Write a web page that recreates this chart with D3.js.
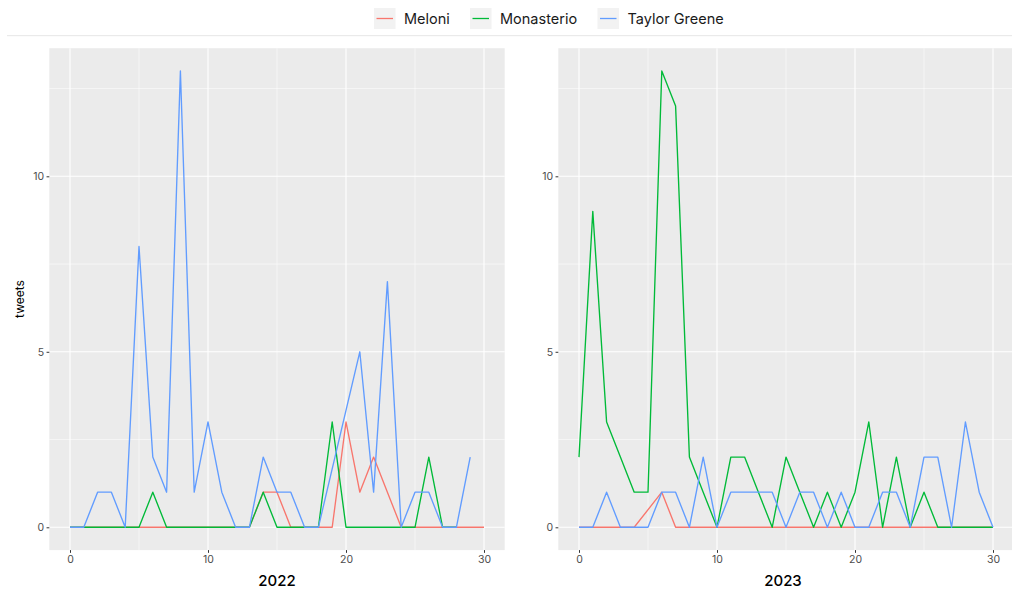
<!DOCTYPE html>
<html>
<head>
<meta charset="utf-8">
<script src="https://cdn.jsdelivr.net/npm/d3@7"></script>
<style>
  body { margin: 0; background: #fff; }
  svg { font-family: Inter, "Noto Sans", sans-serif; display: block; }
</style>
</head>
<body>
<svg id="chart" width="1012" height="589"></svg>
<script>
// tweets per day index, null = no row for that day (line joins across it)
const days = d3.range(0, 31);
const years = ["2022", "2023"];
const seriesNames = ["Meloni", "Monasterio", "Taylor Greene"];
const seriesColors = ["#F8766D", "#00BA38", "#619CFF"];

const meloni2022 = [0,0,0,0,0,0,0,0,0,0,0,0,0,0,1,1,0,0,0,0,3,1,2,1,0,0,0,0,0,0,0];
const monasterio2022 = [0,0,0,0,0,0,1,0,0,0,0,0,0,0,1,0,0,0,0,3,0,0,0,0,0,0,2,0,0,null,null];
const greene2022 = [0,0,1,1,0,8,2,1,13,1,3,1,0,0,2,1,1,0,0,null,null,5,1,7,0,1,1,0,0,2,null];

const meloni2023 = [0,0,0,0,0,null,1,0,0,0,0,0,0,0,0,0,0,0,0,0,0,0,0,0,0,0,0,0,0,0,0];
const monasterio2023 = [2,9,3,2,1,1,13,12,2,1,0,2,2,1,0,2,1,0,1,0,1,3,0,2,0,1,0,0,0,0,0];
const greene2023 = [0,0,1,0,0,0,1,1,0,2,0,1,1,1,1,0,1,1,0,1,0,0,1,1,0,2,2,0,3,1,0];

const xTicks = [0, 10, 20, 30];
const yTicks = [0, 5, 10];

const panelData = {
    "2022": [meloni2022, monasterio2022, greene2022],
    "2023": [meloni2023, monasterio2023, greene2023],
};

const svg = d3.select("#chart");

const panelLeft = { "2022": 49.3, "2023": 558.3 };
const panelWidth = 455.4;
const panelTop = 48.2, panelBottom = 550.1;

const y = d3.scaleLinear().domain([-0.65, 13.65]).range([panelBottom, panelTop]);

// legend
const legend = svg.append("g");
const legendX = [374, 470, 597.5];
seriesNames.forEach((name, i) => {
    const g = legend.append("g").attr("transform", `translate(${legendX[i]},8)`);
    g.append("rect").attr("width", 21.5).attr("height", 21).attr("fill", "#F2F2F2");
    g.append("line")
        .attr("x1", 2.5).attr("x2", 19)
        .attr("y1", 10.5).attr("y2", 10.5)
        .attr("stroke", seriesColors[i]).attr("stroke-width", 1.3);
    g.append("text")
        .attr("x", 30).attr("y", 16)
        .attr("font-size", 14.5)
        .attr("fill", "#1a1a1a")
        .text(name);
});
svg.append("line")
    .attr("x1", 7).attr("x2", 1012)
    .attr("y1", 35.7).attr("y2", 35.7)
    .attr("stroke", "#E6E6E6").attr("stroke-width", 1);

svg.append("text")
    .attr("transform", "translate(24,299) rotate(-90)")
    .attr("text-anchor", "middle")
    .attr("font-size", 12)
    .attr("fill", "#000")
    .text("tweets");

years.forEach((year) => {
    const x0 = panelLeft[year];
    const x = d3.scaleLinear().domain([-1.5, 31.5]).range([x0, x0 + panelWidth]);
    const g = svg.append("g");

    g.append("rect")
        .attr("x", x0).attr("y", panelTop)
        .attr("width", panelWidth).attr("height", panelBottom - panelTop)
        .attr("fill", "#EBEBEB");

    // minor grid
    [5, 15, 25].forEach((v) => {
        g.append("line").attr("x1", x(v)).attr("x2", x(v)).attr("y1", panelTop).attr("y2", panelBottom)
            .attr("stroke", "#fff").attr("stroke-width", 0.55);
    });
    [2.5, 7.5, 12.5].forEach((v) => {
        g.append("line").attr("x1", x0).attr("x2", x0 + panelWidth).attr("y1", y(v)).attr("y2", y(v))
            .attr("stroke", "#fff").attr("stroke-width", 0.55);
    });
    // major grid
    xTicks.forEach((v) => {
        g.append("line").attr("x1", x(v)).attr("x2", x(v)).attr("y1", panelTop).attr("y2", panelBottom)
            .attr("stroke", "#fff").attr("stroke-width", 1.1);
    });
    yTicks.forEach((v) => {
        g.append("line").attr("x1", x0).attr("x2", x0 + panelWidth).attr("y1", y(v)).attr("y2", y(v))
            .attr("stroke", "#fff").attr("stroke-width", 1.1);
    });

    const line = d3.line().x((d) => x(d[0])).y((d) => y(d[1]));
    panelData[year].forEach((vals, i) => {
        const pts = days.map((d) => [d, vals[d]]).filter((d) => d[1] !== null);
        g.append("path")
            .datum(pts)
            .attr("d", line)
            .attr("fill", "none")
            .attr("stroke", seriesColors[i])
            .attr("stroke-width", 1.35)
            .attr("stroke-linejoin", "round");
    });

    const xAxis = g.append("g")
        .attr("transform", `translate(0,${panelBottom})`)
        .call(d3.axisBottom(x).tickValues(xTicks).tickSize(2.75).tickPadding(2.5));
    const yAxis = g.append("g")
        .attr("transform", `translate(${x0},0)`)
        .call(d3.axisLeft(y).tickValues(yTicks).tickSize(2.75).tickPadding(2.5));
    [xAxis, yAxis].forEach((a) => {
        a.select(".domain").remove();
        a.selectAll(".tick line").attr("stroke", "#333").attr("stroke-width", 1);
        a.selectAll(".tick text")
            .attr("fill", "#4D4D4D")
            .attr("font-size", 10.5)
            .attr("font-family", "Inter, 'Noto Sans', sans-serif");
    });

    g.append("text")
        .attr("x", x0 + panelWidth / 2 - (year === "2023" ? 3 : 0))
        .attr("y", 586)
        .attr("text-anchor", "middle")
        .attr("font-size", 15)
        .attr("font-weight", 500)
        .attr("fill", "#000")
        .text(year);
});
</script>
</body>
</html>
